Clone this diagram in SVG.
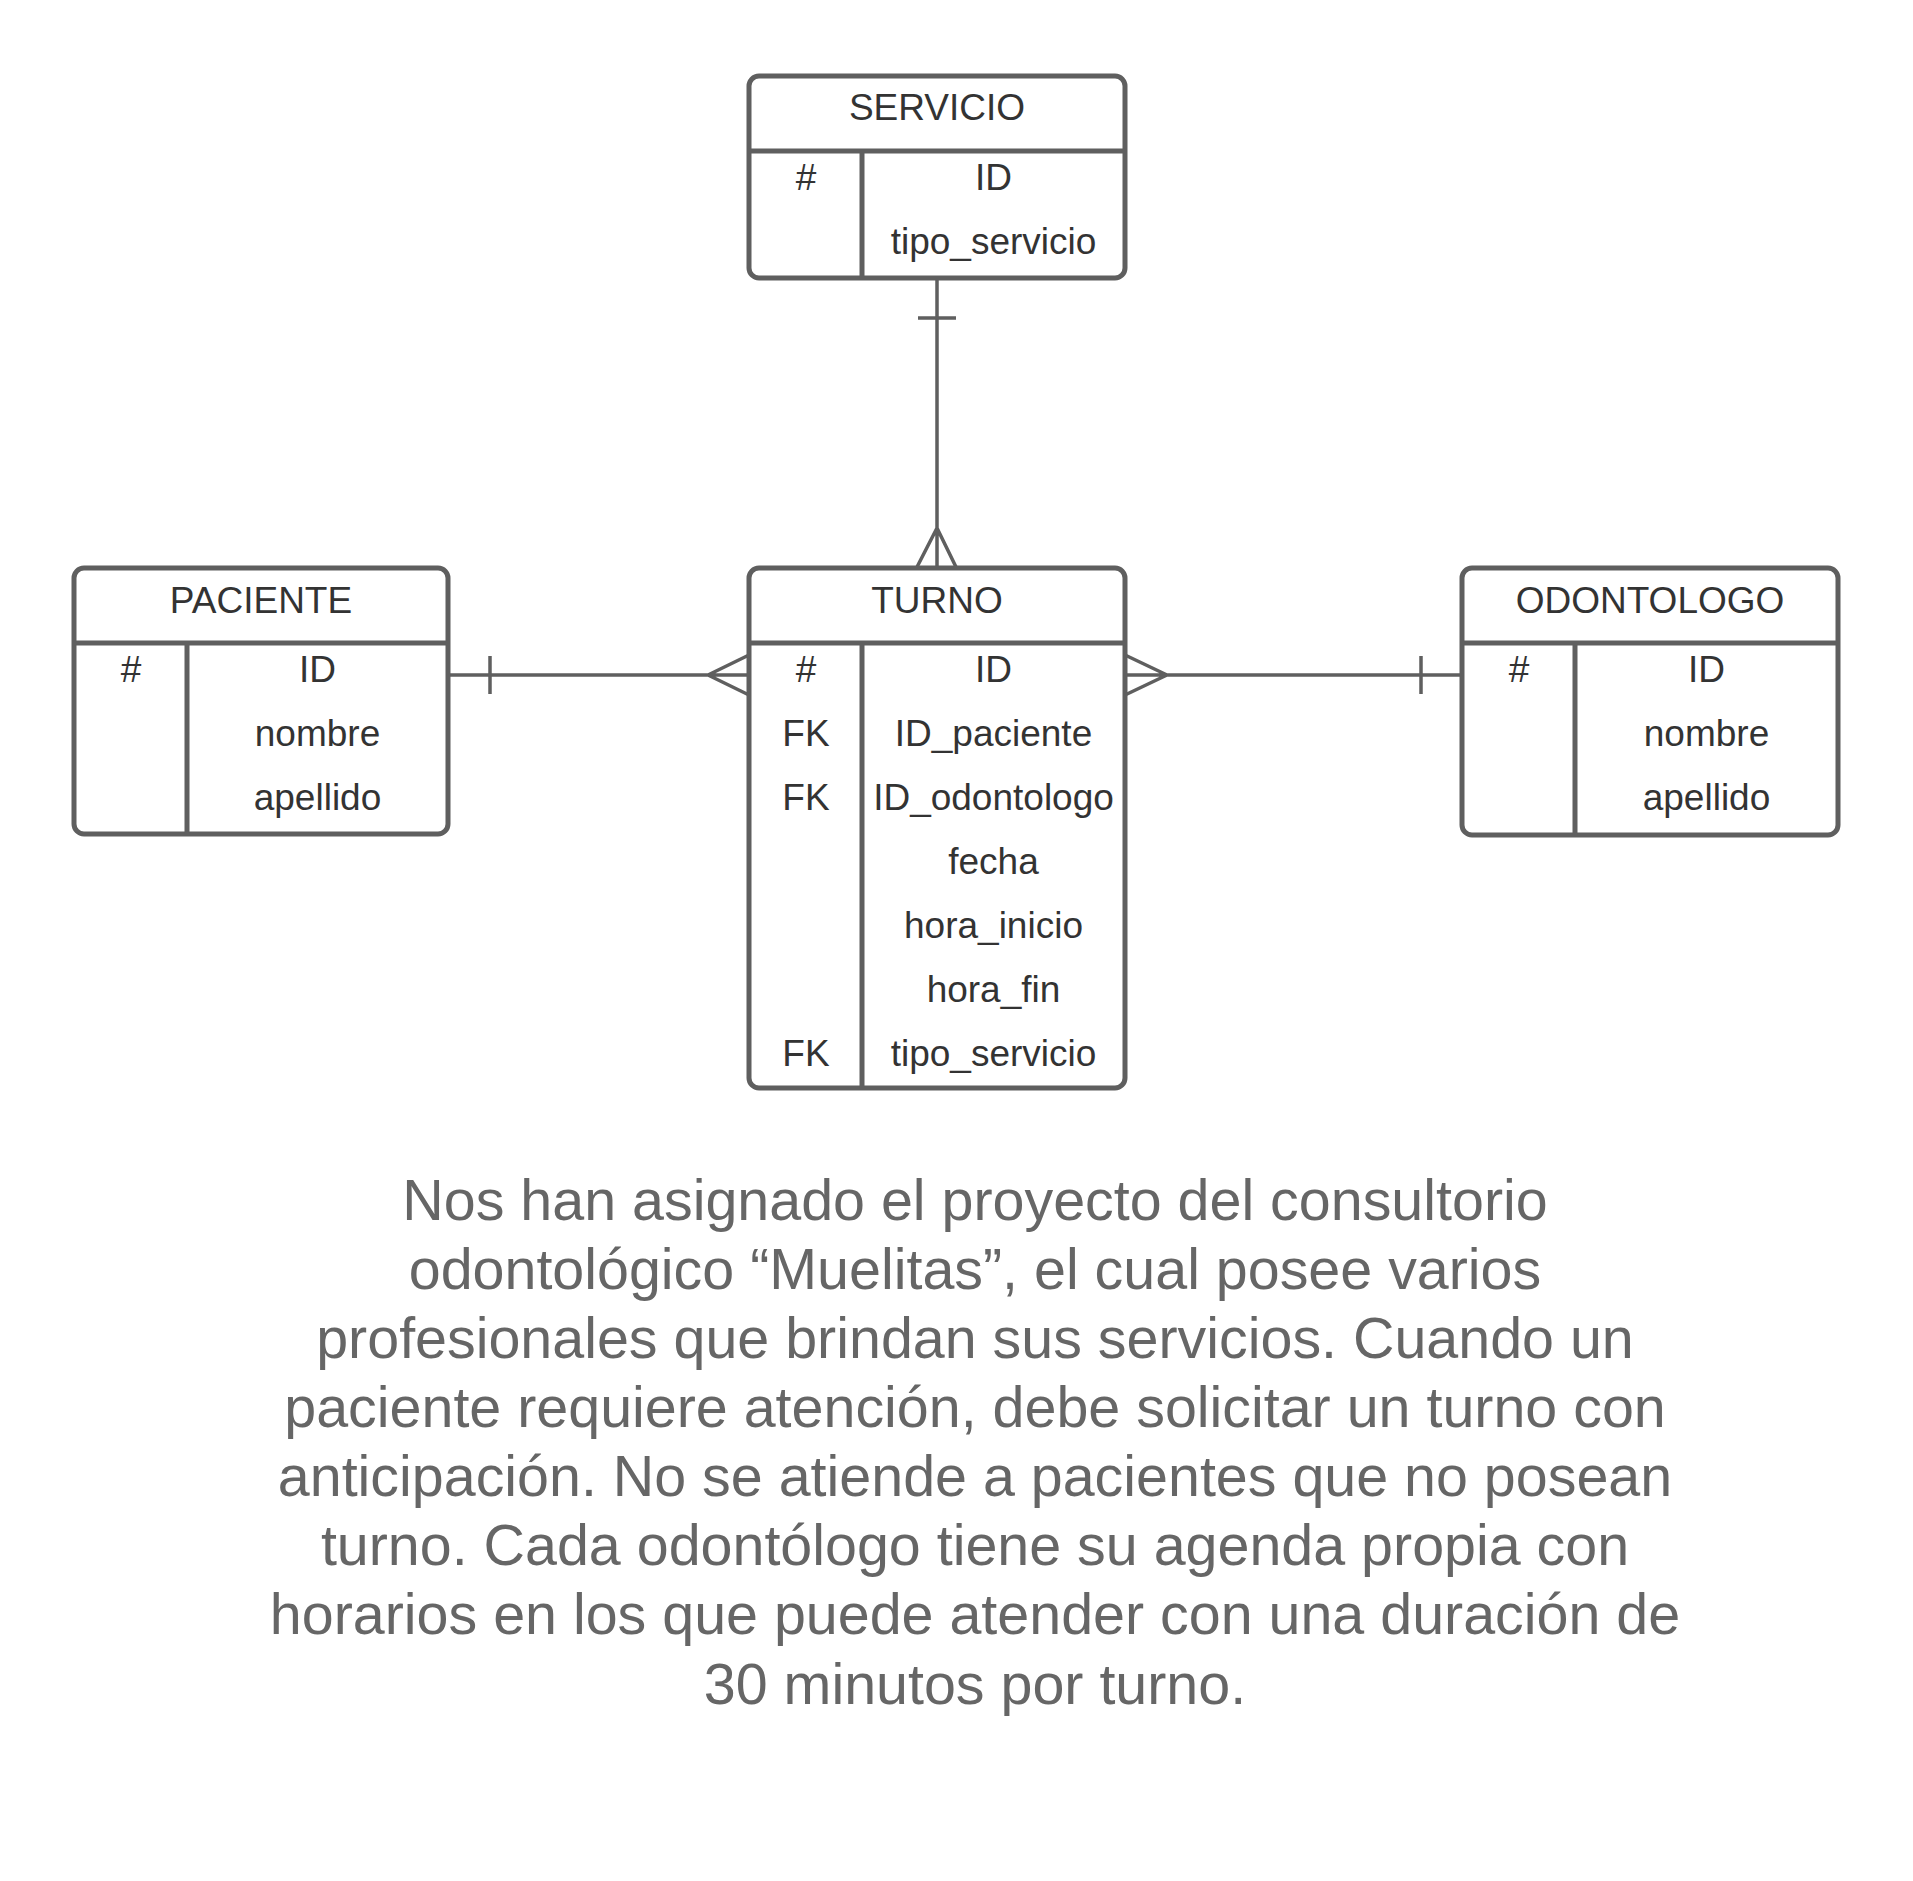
<svg xmlns="http://www.w3.org/2000/svg" width="1913" height="1881" viewBox="0 0 1913 1881">
<style>
.box{fill:#ffffff;stroke:#5f5f5f;stroke-width:5}
.ln{stroke:#5f5f5f;stroke-width:5;fill:none}
.t{font-family:"Liberation Sans",Arial,sans-serif;font-size:37px;fill:#333333;text-anchor:middle}
.c{stroke:#5f5f5f;stroke-width:3.5;fill:none;stroke-linecap:butt;stroke-linejoin:miter}
.p{font-family:"Liberation Sans",Arial,sans-serif;font-size:57.4px;fill:#666666;text-anchor:middle}
</style>
<rect width="1913" height="1881" fill="#ffffff"/>
<g id="connectors">
<path class="c" d="M937 278 V568 M918 318 H956 M937 528 L917 567 M937 528 L956 567"/>
<path class="c" d="M448 675 H749 M490 656 V694 M708 675 L749 655 M708 675 L749 695"/>
<path class="c" d="M1125 675 H1462 M1421 656 V694 M1167 675 L1125 655 M1167 675 L1125 695"/>
</g>
<g id="servicio">
<rect class="box" x="749" y="76" width="376" height="202" rx="10"/>
<path class="ln" d="M749 151 H1125 M862 151 V278"/>
<text class="t" x="937" y="120">SERVICIO</text>
<text class="t" x="806" y="190">#</text>
<text class="t" x="993.5" y="190">ID</text>
<text class="t" x="993.5" y="254">tipo_servicio</text>
</g>
<g id="paciente">
<rect class="box" x="74" y="568" width="374" height="266" rx="10"/>
<path class="ln" d="M74 643 H448 M187 643 V834"/>
<text class="t" x="261" y="613">PACIENTE</text>
<text class="t" x="131" y="682">#</text>
<text class="t" x="317.5" y="682">ID</text>
<text class="t" x="317.5" y="746">nombre</text>
<text class="t" x="317.5" y="810">apellido</text>
</g>
<g id="turno">
<rect class="box" x="749" y="568" width="376" height="520" rx="10"/>
<path class="ln" d="M749 643 H1125 M862 643 V1088"/>
<text class="t" x="937" y="613">TURNO</text>
<text class="t" x="806" y="682">#</text>
<text class="t" x="993.5" y="682">ID</text>
<text class="t" x="806" y="746">FK</text>
<text class="t" x="993.5" y="746">ID_paciente</text>
<text class="t" x="806" y="810">FK</text>
<text class="t" x="993.5" y="810">ID_odontologo</text>
<text class="t" x="993.5" y="874">fecha</text>
<text class="t" x="993.5" y="938">hora_inicio</text>
<text class="t" x="993.5" y="1002">hora_fin</text>
<text class="t" x="806" y="1066">FK</text>
<text class="t" x="993.5" y="1066">tipo_servicio</text>
</g>
<g id="odontologo">
<rect class="box" x="1462" y="568" width="376" height="267" rx="10"/>
<path class="ln" d="M1462 643 H1838 M1575 643 V835"/>
<text class="t" x="1650" y="613">ODONTOLOGO</text>
<text class="t" x="1519" y="682">#</text>
<text class="t" x="1706.5" y="682">ID</text>
<text class="t" x="1706.5" y="746">nombre</text>
<text class="t" x="1706.5" y="810">apellido</text>
</g>
<g id="descripcion">
<text class="p" x="975" y="1220">Nos han asignado el proyecto del consultorio</text>
<text class="p" x="975" y="1289">odontológico “Muelitas”, el cual posee varios</text>
<text class="p" x="975" y="1358">profesionales que brindan sus servicios. Cuando un</text>
<text class="p" x="975" y="1427">paciente requiere atención, debe solicitar un turno con</text>
<text class="p" x="975" y="1496">anticipación. No se atiende a pacientes que no posean</text>
<text class="p" x="975" y="1565">turno. Cada odontólogo tiene su agenda propia con</text>
<text class="p" x="975" y="1634">horarios en los que puede atender con una duración de</text>
<text class="p" x="975" y="1704">30 minutos por turno.</text>
</g>
</svg>
